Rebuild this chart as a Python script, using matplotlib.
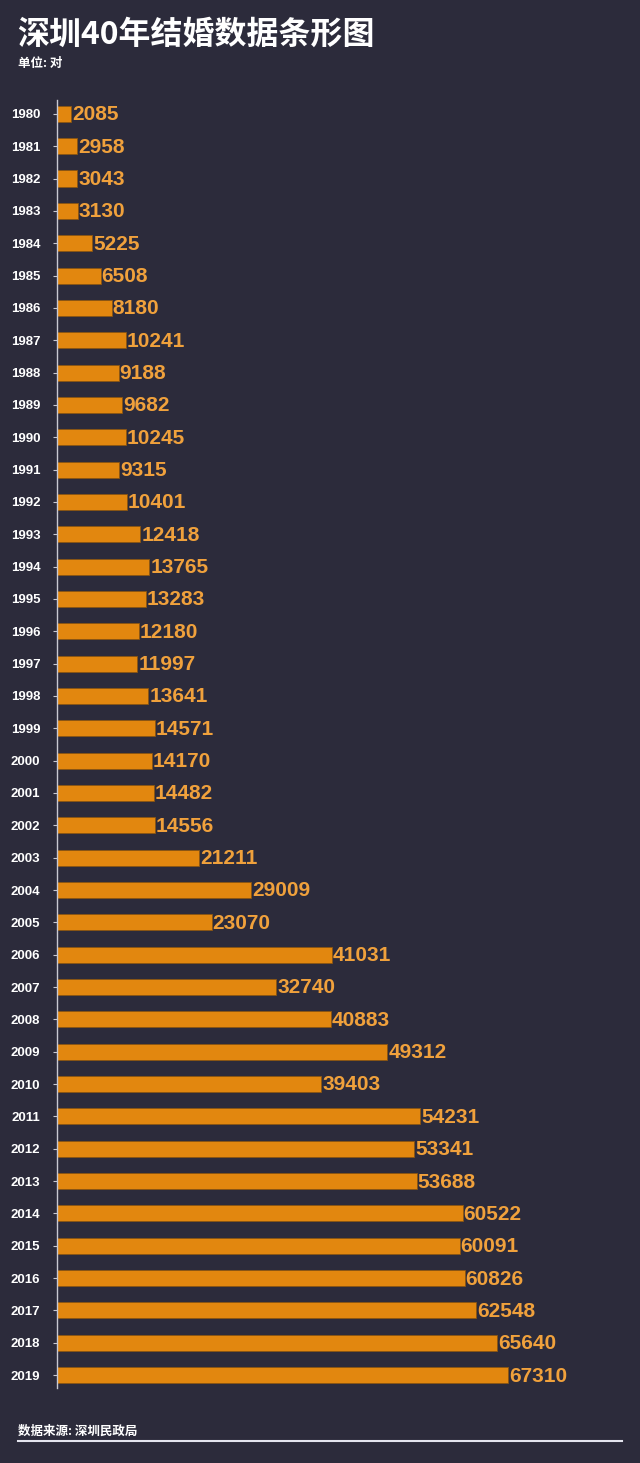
import matplotlib
matplotlib.use("Agg")
import matplotlib.pyplot as plt
from matplotlib.lines import Line2D

plt.rcParams['font.family'] = ['Noto Sans CJK SC', 'DejaVu Sans']

years = [str(y) for y in range(1980, 2020)]
marriages = [2085, 2958, 3043, 3130, 5225, 6508, 8180, 10241, 9188, 9682,
             10245, 9315, 10401, 12418, 13765, 13283, 12180, 11997, 13641, 14571,
             14170, 14482, 14556, 21211, 29009, 23070, 41031, 32740, 40883, 49312,
             39403, 54231, 53341, 53688, 60522, 60091, 60826, 62548, 65640, 67310]

BG = "#2c2b3b"
BAR = "#e2870f"
LABEL = "#f0a13c"
AXIS = "#c9c9d2"

W, H = 640, 1463
fig = plt.figure(figsize=(W / 100, H / 100), dpi=100, facecolor=BG)

# axes: left edge at x=57px, top y=100px, bottom y=1388px
ax = fig.add_axes([57 / W, 1 - 1388 / H, 1 - 57 / W, (1388 - 100) / H])
ax.set_facecolor(BG)

pos = list(range(len(years)))
ax.barh(pos, marriages, height=0.5, color=BAR, edgecolor="#8a5512", linewidth=0.6)
ax.set_xlim(0, 87000)
ax.set_ylim(39.4, -0.43)

for p, v in zip(pos, marriages):
    ax.text(v + 150, p + 0.03, str(v), va="center", ha="left", color=LABEL,
            fontsize=15, fontweight="bold", family=["Liberation Sans", "DejaVu Sans"])

ax.set_yticks(pos)
ax.set_yticklabels(years, color="white", fontsize=9.5, fontweight="bold",
                   family=["Liberation Sans", "DejaVu Sans"])
ax.tick_params(axis="y", length=3, width=0.8, color=AXIS, pad=9)
ax.set_xticks([])
for s in ("top", "right", "bottom"):
    ax.spines[s].set_visible(False)
ax.spines["left"].set_color(AXIS)
ax.spines["left"].set_linewidth(1)

fig.text(17 / W, 1 - 35 / H, "深圳40年结婚数据条形图", color="white",
         fontsize=23, fontweight="bold", va="center", ha="left")
fig.text(18 / W, 1 - 64 / H, "单位: 对", color="white",
         fontsize=9, fontweight="bold", va="center", ha="left")
fig.text(18 / W, 1 - 1431 / H, "数据来源: 深圳民政局", color="white",
         fontsize=9, fontweight="bold", va="center", ha="left")
fig.add_artist(Line2D([18 / W, 622 / W], [1 - 1441 / H, 1 - 1441 / H],
                      color="#e4e4ee", linewidth=1.5, transform=fig.transFigure))

fig.savefig("out.png", dpi=100, facecolor=BG)
